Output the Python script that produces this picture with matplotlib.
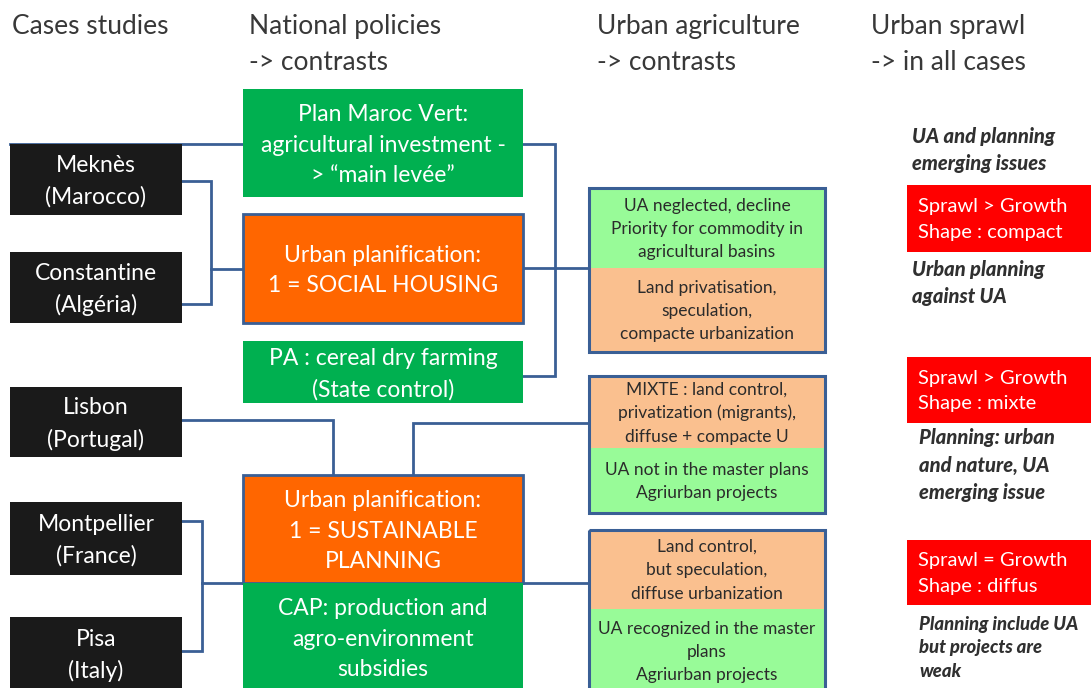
import matplotlib
matplotlib.use('Agg')
import matplotlib.pyplot as plt
from matplotlib.patches import Rectangle

plt.rcParams['font.family'] = ['Lato', 'DejaVu Sans']

# Texts
HEADERS = ['Cases studies', 'National policies\n-> contrasts',
           'Urban agriculture\n-> contrasts', 'Urban sprawl\n-> in all cases']
CASES = ['Meknès\n(Marocco)', 'Constantine\n(Algéria)', 'Lisbon\n(Portugal)',
         'Montpellier\n(France)', 'Pisa\n(Italy)']
POLICIES = ['Plan Maroc Vert:\nagricultural investment -\n> \u201cmain levée\u201d',
            'Urban planification:\n1 = SOCIAL HOUSING',
            'PA : cereal dry farming\n(State control)',
            'Urban planification:\n1 = SUSTAINABLE\nPLANNING',
            'CAP: production and\nagro-environment\nsubsidies']
POLICY_KIND = ['agri', 'urban', 'agri', 'urban', 'agri']
UA_TOP = ['UA neglected, decline\nPriority for commodity in\nagricultural basins',
          'MIXTE : land control,\nprivatization (migrants),\ndiffuse + compacte U',
          'Land control,\nbut speculation,\ndiffuse urbanization']
UA_BOTTOM = ['Land privatisation,\nspeculation,\ncompacte urbanization',
             'UA not in the master plans\nAgriurban projects',
             'UA recognized in the master\nplans\nAgriurban projects']
UA_TOP_KIND = ['ua', 'land', 'land']
SPRAWL = ['Sprawl > Growth\nShape : compact', 'Sprawl > Growth\nShape : mixte',
          'Sprawl = Growth\nShape : diffus']
NOTES = ['UA and planning\nemerging issues', 'Urban planning\nagainst UA',
         'Planning: urban\nand nature, UA\nemerging issue',
         'Planning include UA\nbut projects are\nweak']

# Layout (pixel coords, y downwards)
W, H = 1091, 688
HEADER_X = [12, 249, 597, 871]
CASE_Y = [(144, 215), (252, 323), (387, 457), (502, 575), (617, 690)]
POLICY_Y = [(89, 197), (214, 323), (341, 403), (475, 583), (583, 691)]
UA_Y = [(188, 268, 352), (376, 448, 513), (530, 609, 693)]
SPRAWL_Y = [(185, 252), (357, 423), (540, 605)]
NOTE_X = [912, 912, 919, 919]
NOTE_Y = [150, 283, 465, 648]
NOTE_SIZE = [14.5, 14.5, 14.5, 13.3]
NOTE_LS = [1.5, 1.5, 1.5, 1.45]

COLORS = {'agri': '#00b050', 'urban': '#ff6600', 'ua': '#98fb98',
          'land': '#fac08f', 'case': '#1a1a1a', 'sprawl': '#ff0000'}
LINE = '#3a5f95'


def box(ax, x0, y0, x1, y1, color, text, tcolor, size, ls, edge=None, dy=0):
    ax.add_patch(Rectangle((x0, y0), x1 - x0, y1 - y0, facecolor=color,
                           edgecolor=edge if edge else 'none',
                           linewidth=2 if edge else 0, zorder=2))
    ax.text((x0 + x1) / 2, (y0 + y1) / 2 + dy, text, color=tcolor,
            fontsize=size, ha='center', va='center', linespacing=ls,
            zorder=3)


def line(ax, xs, ys):
    ax.plot(xs, ys, color=LINE, lw=2, solid_joinstyle='miter', zorder=1)


fig = plt.figure(figsize=(W / 100, H / 100), dpi=100)
ax = fig.add_axes([0, 0, 1, 1])
ax.set_xlim(0, W)
ax.set_ylim(H, 0)
ax.axis('off')

# headers
for x, t in zip(HEADER_X, HEADERS):
    for i, part in enumerate(t.split('\n')):
        ax.text(x, 24 + 36 * i, part, fontsize=19, color='#383838',
                ha='left', va='center_baseline')

# connectors
line(ax, [10, 243], [144, 144])
line(ax, [523, 555, 555, 523], [144, 144, 376, 376])
line(ax, [523, 589], [268, 268])
line(ax, [182, 211, 211, 182], [181, 181, 304, 304])
line(ax, [211, 243], [269, 269])
line(ax, [182, 333, 333], [420, 420, 475])
line(ax, [413, 413, 589], [475, 423, 423])
line(ax, [182, 202, 202, 182], [521, 521, 651, 651])
line(ax, [202, 243], [583, 583])
line(ax, [522, 589], [583, 583])

# case studies
for (y0, y1), t in zip(CASE_Y, CASES):
    box(ax, 10, y0, 182, y1, COLORS['case'], t, 'white', 16.5, 1.55, dy=2)

# national policies
for (y0, y1), t, k in zip(POLICY_Y, POLICIES, POLICY_KIND):
    edge = LINE if k == 'urban' else None
    box(ax, 243, y0, 523, y1, COLORS[k], t, 'white', 16.5, 1.58, edge, dy=2)

# urban agriculture
for (y0, ym, y1), tt, tb, k in zip(UA_Y, UA_TOP, UA_BOTTOM, UA_TOP_KIND):
    kb = 'land' if k == 'ua' else 'ua'
    box(ax, 589, y0, 825, ym, COLORS[k], tt, '#2b2b2b', 12.5, 1.57, dy=1)
    box(ax, 589, ym, 825, y1, COLORS[kb], tb, '#2b2b2b', 12.5, 1.57, dy=1)
    ax.add_patch(Rectangle((589, y0), 236, y1 - y0, facecolor='none',
                           edgecolor=LINE, linewidth=2.2, zorder=4))

# urban sprawl
for (y0, y1), t in zip(SPRAWL_Y, SPRAWL):
    ax.add_patch(Rectangle((907, y0), W - 907 + 5, y1 - y0,
                           facecolor=COLORS['sprawl'], edgecolor='none',
                           zorder=2))
    ax.text(918, (y0 + y1) / 2 + 1, t, color='white', fontsize=14.5,
            ha='left', va='center', linespacing=1.6, zorder=3)

for x, y, t, s, ls in zip(NOTE_X, NOTE_Y, NOTES, NOTE_SIZE, NOTE_LS):
    ax.text(x, y, t, color='#303030', fontsize=s, fontweight='black',
            fontstyle='italic', ha='left', va='center', linespacing=ls)

fig.savefig('out.png', dpi=100)
